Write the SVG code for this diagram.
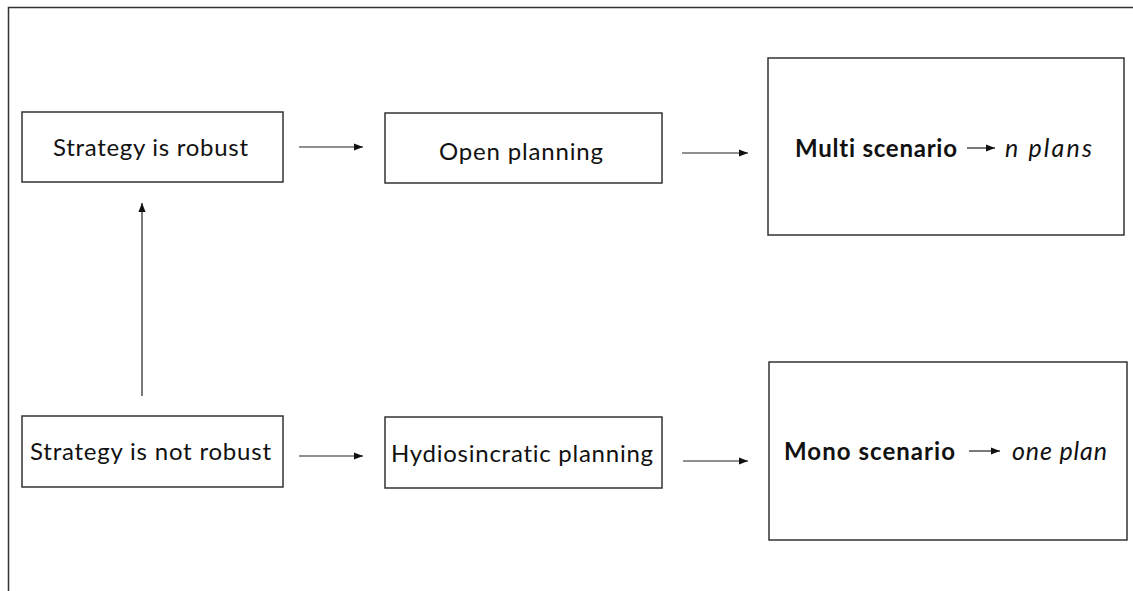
<svg xmlns="http://www.w3.org/2000/svg" width="1133" height="591" viewBox="0 0 1133 591">
<defs>
<marker id="ah" viewBox="0 0 10 10" refX="10" refY="5" markerWidth="9" markerHeight="9" markerUnits="userSpaceOnUse" orient="auto">
<path d="M0,1 L10,5 L0,9 z" fill="#111"/>
</marker>
</defs>
<style>
.box{fill:#fff;stroke:#333;stroke-width:1.5}
.t{font-family:Lato,"Open Sans","Liberation Sans",sans-serif;font-size:24px;fill:#111;font-variant-ligatures:none}
.b{font-weight:bold}
.i{font-style:italic;font-size:25px}
.c{stroke:#222;stroke-width:1.2;fill:none;marker-end:url(#ah)}
.frame{stroke:#333;stroke-width:1.5;fill:none}
</style>
<rect width="1133" height="591" fill="#fff"/>
<path class="frame" d="M8.5,591 L8.5,7.5 L1133,7.5"/>
<g id="n-robust">
<rect class="box" x="22" y="112" width="261" height="70"/>
<text class="t" x="53" y="156" textLength="195">Strategy is robust</text>
</g>
<g id="n-open">
<rect class="box" x="385" y="113" width="277" height="70"/>
<text class="t" x="439" y="160" textLength="164">Open planning</text>
</g>
<g id="n-multi">
<rect class="box" x="768" y="58" width="356" height="177"/>
<text class="t b" x="795" y="157" textLength="162">Multi scenario</text>
<line class="c" x1="967" y1="148" x2="995" y2="148"/>
<text class="t i" x="1005" y="157" textLength="87">n plans</text>
</g>
<g id="n-notrobust">
<rect class="box" x="22" y="416" width="261" height="71"/>
<text class="t" x="30" y="460" textLength="241">Strategy is not robust</text>
</g>
<g id="n-hydio">
<rect class="box" x="385" y="417" width="277" height="71"/>
<text class="t" x="391" y="462" textLength="262">Hydiosincratic planning</text>
</g>
<g id="n-mono">
<rect class="box" x="769" y="362" width="358" height="178"/>
<text class="t b" x="784" y="460" textLength="171">Mono scenario</text>
<line class="c" x1="969" y1="451" x2="1000" y2="451"/>
<text class="t i" x="1012" y="460" textLength="95">one plan</text>
</g>
<g id="connectors">
<line class="c" x1="299" y1="147" x2="363" y2="147"/>
<line class="c" x1="682" y1="153" x2="748" y2="153"/>
<line class="c" x1="299" y1="456" x2="363" y2="456"/>
<line class="c" x1="683" y1="461" x2="748" y2="461"/>
<line class="c" x1="142" y1="396" x2="142" y2="203"/>
</g>
</svg>
